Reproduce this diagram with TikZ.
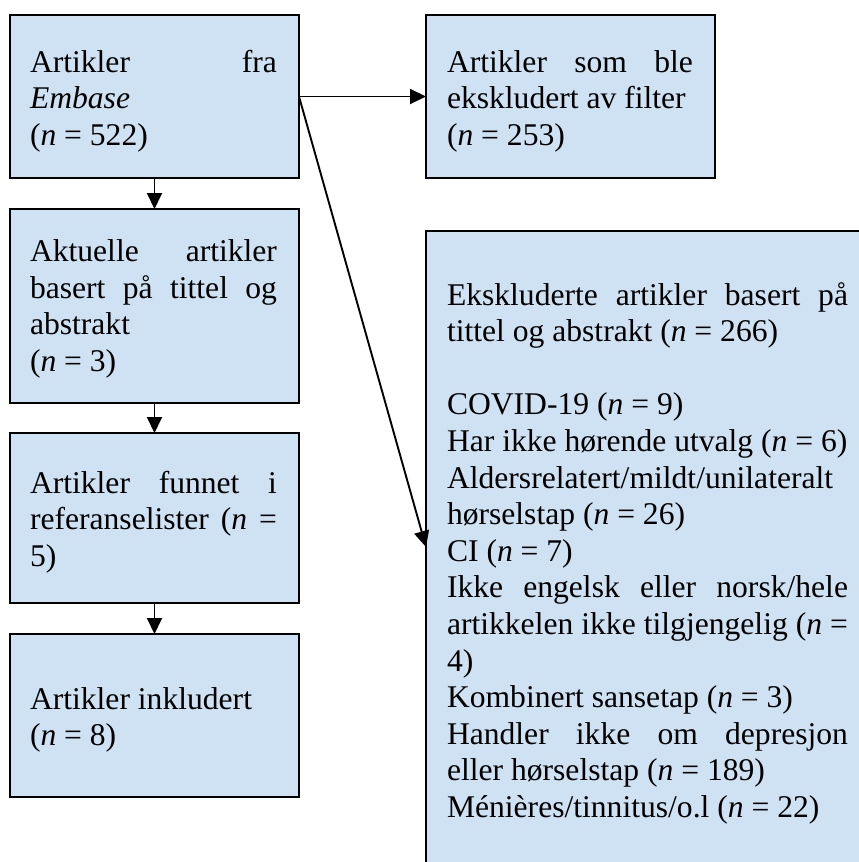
\documentclass[tikz,border=0pt]{standalone}
\usepackage{fontspec}
\setmainfont{Liberation Serif}
\usetikzlibrary{arrows.meta}
\definecolor{boxfill}{RGB}{207,226,243}
\tikzset{
  flowbox/.style={draw=black, line width=2.2pt, fill=boxfill, anchor=north west, inner sep=0pt, outer sep=0pt},
  boxtext/.style={anchor=base west, inner sep=0pt, outer sep=0pt, font=\fontsize{31.6}{36.6}\selectfont},
  flowarrow/.style={line width=1.9pt, -{Triangle[length=16pt,width=15pt]}},
}
\hbadness=10000
\begin{document}
\begin{tikzpicture}[x=1pt,y=-1pt]
\useasboundingbox (0,0) rectangle (859,862);
\clip (0,0) rectangle (859,862);
% boxes
\node[flowbox, minimum width=289pt, minimum height=163pt] (b1) at (10,15) {};
\node[flowbox, minimum width=289pt, minimum height=194pt] (b2) at (10,209) {};
\node[flowbox, minimum width=289pt, minimum height=170pt] (b3) at (10,433) {};
\node[flowbox, minimum width=289pt, minimum height=163pt] (b4) at (10,634) {};
\node[flowbox, minimum width=289pt, minimum height=163pt] (r1) at (426,15) {};
\node[flowbox, minimum width=460pt, minimum height=680pt] (r2) at (426,231) {};
% texts
\node[boxtext] (t1) at (30,72) {\parbox[t]{247pt}{Artikler fra\linebreak \textit{Embase}\\(\textit{n} = 522)}};
\node[boxtext] (t2) at (30,261.5) {\parbox[t]{247pt}{Aktuelle artikler\linebreak basert på tittel og\linebreak abstrakt\\(\textit{n} = 3)}};
\node[boxtext] (t3) at (30,493) {\parbox[t]{247pt}{Artikler funnet i\linebreak referanselister (\textit{n} =\linebreak 5)}};
\node[boxtext] (t4) at (30,709) {\parbox[t]{247pt}{Artikler inkludert\\(\textit{n} = 8)}};
\node[boxtext] (t5) at (447,72) {\parbox[t]{246pt}{Artikler som ble\linebreak ekskludert av filter\\(\textit{n} = 253)}};
\node[boxtext] (t6) at (447,305) {\parbox[t]{401pt}{Ekskluderte artikler basert på\linebreak tittel og abstrakt (\textit{n} = 266)\\\mbox{}\\COVID-19 (\textit{n} = 9)\\Har ikke hørende utvalg (\textit{n} = 6)\\Aldersrelatert/mildt/unilateralt\\hørselstap (\textit{n} = 26)\\CI (\textit{n} = 7)\\Ikke engelsk eller norsk/hele\linebreak artikkelen ikke tilgjengelig (\textit{n} =\linebreak 4)\\Kombinert sansetap (\textit{n} = 3)\\Handler ikke om depresjon\linebreak eller hørselstap (\textit{n} = 189)\\Ménières/tinnitus/o.l (\textit{n} = 22)}};
% connectors
\coordinate (dtip) at (426,547);
\draw[flowarrow] (b1.south) -- (b2.north);
\draw[flowarrow] (b2.south) -- (b3.north);
\draw[flowarrow] (b3.south) -- (b4.north);
\draw[flowarrow] (b1.east) -- (r1.west);
\draw[flowarrow] (b1.east) -- (dtip);
\end{tikzpicture}
\end{document}
